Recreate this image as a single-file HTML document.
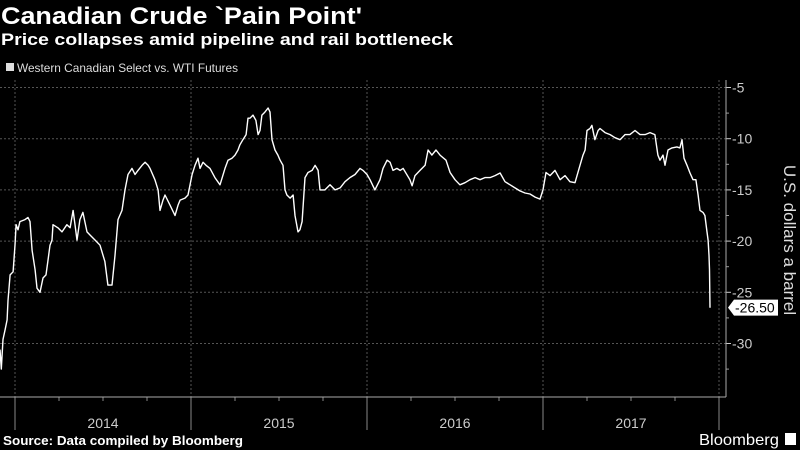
<!DOCTYPE html>
<html><head><meta charset="utf-8"><style>
html,body{margin:0;padding:0;background:#000;width:800px;height:450px;overflow:hidden}
svg{display:block;font-family:"Liberation Sans",sans-serif}
</style></head><body>
<svg id="chart" width="800" height="450" viewBox="0 0 800 450">
<rect width="800" height="450" fill="#000"/>
<text x="1" y="24" fill="#fff" font-weight="bold" font-size="24" textLength="361" lengthAdjust="spacingAndGlyphs">Canadian Crude `Pain Point'</text>
<text x="1" y="45" fill="#fff" font-weight="bold" font-size="17" textLength="452" lengthAdjust="spacingAndGlyphs">Price collapses amid pipeline and rail bottleneck</text>
<rect x="6" y="63" width="8" height="8" fill="#ddd"/>
<text x="17" y="72" fill="#ddd" font-size="12" textLength="221" lengthAdjust="spacingAndGlyphs">Western Canadian Select vs. WTI Futures</text>
<g id="grid"></g>
<g id="axes"></g>
<path id="series" fill="none" stroke="#fff" stroke-width="1.4" stroke-linejoin="round"/>
<g id="lastlabel"></g>
<text transform="translate(784,240) rotate(90)" text-anchor="middle" fill="#ddd" font-size="17">U.S. dollars a barrel</text>
<text x="3" y="445" fill="#fff" font-weight="bold" font-size="13" textLength="240" lengthAdjust="spacingAndGlyphs">Source: Data compiled by Bloomberg</text>
<text x="699" y="445" fill="#fff" font-size="16" textLength="80" lengthAdjust="spacingAndGlyphs">Bloomberg</text>
<rect x="785" y="433" width="11" height="12" fill="#fff"/>
</svg>
<script>
const yTicks = [-5, -10, -15, -20, -25, -30];
const yearLabels = ["2014", "2015", "2016", "2017"];
const dates = [-0.085,-0.078,-0.068,-0.057,-0.045,-0.040,-0.028,-0.011,0,0.006,0.017,0.028,0.057,0.074,0.085,0.097,0.114,0.125,0.142,0.159,0.176,0.188,0.199,0.210,0.216,0.244,0.267,0.295,0.313,0.330,0.341,0.352,0.369,0.386,0.409,0.426,0.455,0.483,0.511,0.528,0.551,0.568,0.585,0.608,0.625,0.642,0.665,0.682,0.699,0.722,0.739,0.756,0.767,0.795,0.813,0.824,0.841,0.852,0.881,0.909,0.926,0.938,0.966,0.983,1.006,1.023,1.040,1.051,1.068,1.085,1.108,1.136,1.165,1.193,1.210,1.233,1.250,1.267,1.278,1.295,1.313,1.324,1.335,1.352,1.369,1.381,1.392,1.403,1.420,1.438,1.449,1.460,1.477,1.494,1.506,1.523,1.534,1.545,1.563,1.580,1.591,1.608,1.619,1.631,1.648,1.665,1.688,1.705,1.722,1.733,1.761,1.790,1.818,1.847,1.875,1.903,1.932,1.960,1.977,2.000,2.017,2.045,2.074,2.091,2.114,2.131,2.148,2.170,2.188,2.205,2.244,2.256,2.273,2.301,2.330,2.347,2.369,2.392,2.415,2.449,2.472,2.500,2.528,2.557,2.585,2.614,2.642,2.670,2.699,2.727,2.756,2.784,2.813,2.841,2.869,2.898,2.926,2.955,2.983,3.000,3.017,3.040,3.068,3.097,3.125,3.153,3.182,3.210,3.227,3.239,3.250,3.267,3.278,3.295,3.313,3.324,3.352,3.381,3.409,3.438,3.466,3.494,3.523,3.551,3.580,3.608,3.636,3.653,3.665,3.682,3.693,3.710,3.733,3.761,3.778,3.790,3.801,3.818,3.835,3.852,3.869,3.881,3.892,3.909,3.920,3.932,3.938,3.943,3.946,3.949];
const spread = [-30.6,-32.5,-29.6,-28.7,-27.7,-25.8,-23.3,-23.0,-20.4,-18.4,-18.9,-18.1,-17.9,-17.7,-18.1,-20.9,-22.8,-24.6,-25.0,-23.6,-23.3,-21.8,-20.4,-19.9,-18.4,-18.7,-19.1,-18.4,-18.7,-17.0,-18.4,-19.9,-17.9,-17.2,-19.1,-19.4,-19.9,-20.4,-22.0,-24.3,-24.3,-21.4,-17.9,-17.0,-15.0,-13.5,-12.9,-13.5,-13.1,-12.6,-12.3,-12.6,-12.9,-14.0,-15.0,-17.0,-16.0,-15.5,-16.5,-17.5,-16.5,-16.0,-15.8,-15.5,-13.5,-12.6,-11.9,-12.9,-12.3,-12.6,-12.9,-13.8,-14.5,-12.9,-12.1,-11.9,-11.6,-11.1,-10.6,-10.1,-9.6,-8.0,-8.0,-7.7,-8.2,-9.6,-9.2,-7.7,-7.4,-7.0,-7.4,-10.1,-11.1,-11.6,-12.1,-12.6,-15.0,-15.5,-15.8,-15.5,-17.5,-19.1,-18.9,-18.1,-13.8,-13.3,-13.1,-12.6,-13.1,-15.0,-15.0,-14.5,-15.0,-14.8,-14.2,-13.8,-13.5,-12.9,-13.1,-13.5,-14.0,-15.0,-14.0,-12.9,-12.1,-12.3,-13.1,-12.9,-13.1,-12.9,-14.0,-14.6,-13.6,-13.1,-12.6,-11.1,-11.6,-11.1,-11.6,-12.1,-13.3,-14.0,-14.5,-14.3,-14.0,-13.8,-14.0,-13.8,-13.8,-13.6,-13.35,-14.2,-14.5,-14.8,-15.1,-15.3,-15.4,-15.7,-15.9,-15.0,-13.3,-13.6,-13.1,-14.0,-13.6,-14.2,-14.3,-12.6,-11.6,-11.1,-9.2,-9.0,-8.7,-10.1,-9.2,-9.0,-9.4,-9.6,-9.9,-10.1,-9.6,-9.6,-9.2,-9.6,-9.6,-9.4,-9.6,-11.6,-12.1,-11.6,-12.6,-11.1,-10.9,-10.8,-10.9,-10.1,-11.9,-12.6,-13.35,-14.0,-14.0,-15.5,-17.0,-17.2,-17.5,-19.1,-19.9,-21.4,-22.8,-26.5];
const lastValueLabel = "-26.50";

const NS = "http://www.w3.org/2000/svg";
const X0 = 15, YEARW = 176, PLOT_R = 726, PLOT_T = 80, PLOT_B = 397;
function xScale(t){ return X0 + t * YEARW; }
function yScale(v){ return 87.5 + (-5 - v) * 10.24; }
function mk(tag, attrs, parent){ const e=document.createElementNS(NS,tag); for(const k in attrs) e.setAttribute(k,attrs[k]); parent.appendChild(e); return e; }

const grid = document.getElementById('grid');
const axes = document.getElementById('axes');
yTicks.forEach(v => {
  const y = yScale(v);
  const g = mk('line',{x1:0,x2:PLOT_R,y1:y,y2:y,stroke:'#555','stroke-dasharray':'2,2','stroke-width':1},grid);
  
  
  const tk = mk('line',{x1:PLOT_R,x2:PLOT_R+5,y1:y,y2:y,stroke:'#ccc'},axes);
  
  
  const t = mk('text',{x:PLOT_R+6,y:y+5,fill:'#ccc','font-size':14},axes);
  t.textContent = String(v);
  
  
});
[-7.5,-12.5,-17.5,-22.5,-27.5,-32.5].forEach(v=>{
  const y=yScale(v);
  const tk=mk('line',{x1:PLOT_R,x2:PLOT_R+3,y1:y,y2:y,stroke:'#999'},axes);
  
  
});
for(let i=0;i<=4;i++){
  const x = xScale(i);
  const g = mk('line',{x1:x,x2:x,y1:PLOT_T,y2:PLOT_B,stroke:'#555','stroke-dasharray':'2,2'},grid);
  
  
  const s = mk('line',{x1:x,x2:x,y1:PLOT_B,y2:430,stroke:'#888'},axes);
  
  
}
for(let q=0;q<16;q++){
  if(q%4===0) continue;
  const x=xScale(q/4);
  const tk=mk('line',{x1:x,x2:x,y1:PLOT_B,y2:PLOT_B+4,stroke:'#888'},axes);
  
  
}
yearLabels.forEach((lab,i)=>{
  const t=mk('text',{x:xScale(i+0.5),y:428,fill:'#ccc','font-size':14,'text-anchor':'middle'},axes);
  t.textContent=lab;
  
  
});
const xa=mk('line',{x1:0,x2:PLOT_R,y1:PLOT_B,y2:PLOT_B,stroke:'#aaa'},axes);


const ya=mk('line',{x1:PLOT_R,x2:PLOT_R,y1:PLOT_T,y2:PLOT_B,stroke:'#aaa'},axes);



const n = Math.min(dates.length, spread.length);
let d='';
for(let i=0;i<n;i++){ d += (i?'L':'M') + xScale(dates[i]).toFixed(1) + ',' + yScale(spread[i]).toFixed(1); }
document.getElementById('series').setAttribute('d', d);

const ll = document.getElementById('lastlabel');
const ly = yScale(spread[n-1]);
const box = mk('path',{d:`M${PLOT_R+2},${ly} L${PLOT_R+8},${ly-8} H778 V${ly+8} H${PLOT_R+8} Z`,fill:'#fff'},ll);


const lt = mk('text',{x:PLOT_R+9,y:ly+5,fill:'#000','font-size':14},ll);
lt.textContent = lastValueLabel;


</script>
</body></html>
